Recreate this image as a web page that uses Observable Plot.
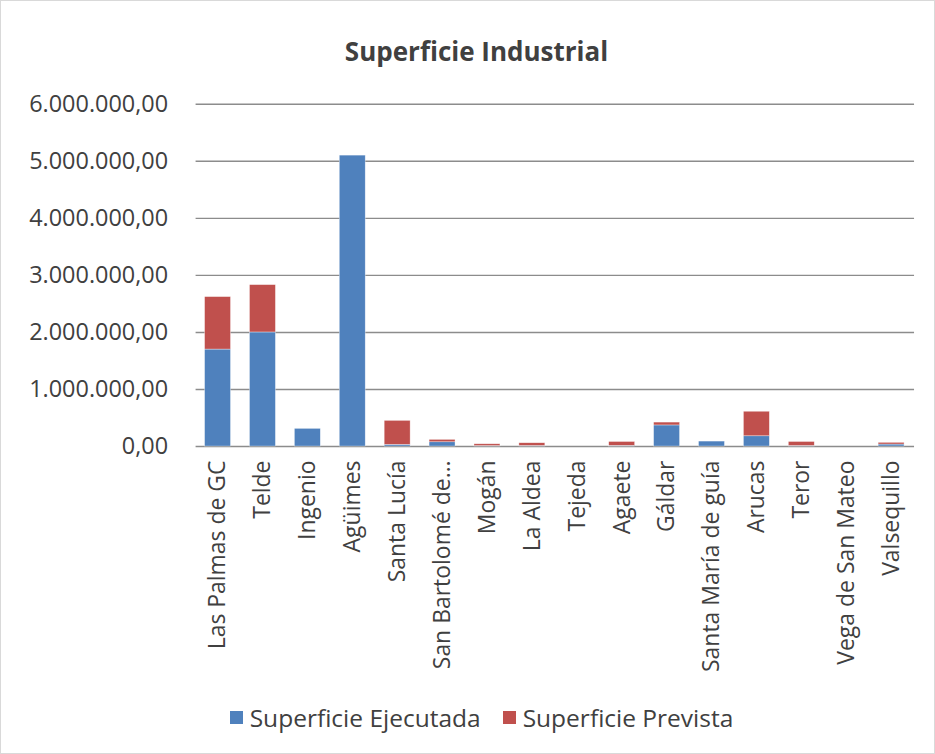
<!DOCTYPE html>
<html>
<head>
<meta charset="utf-8">
<script src="https://cdn.jsdelivr.net/npm/d3@7"></script>
<script src="https://cdn.jsdelivr.net/npm/@observablehq/plot@0.6"></script>
<style>
  body { margin: 0; background: #fff; }
  #frame { position: relative; width: 935px; height: 754px; box-sizing: border-box; border: 1px solid #d9d9d9; font-family: "Open Sans", sans-serif; overflow: hidden; }
  #title { position: absolute; left: 0; width: 100%; top: 32px; text-align: center; font-size: 26px; font-weight: bold; color: #404040; padding-left: 18px; box-sizing: border-box; }
  #chart { position: absolute; left: 0; top: 0; }
  #legend { position: absolute; top: 700px; left: 0; width: 100%; display: flex; justify-content: center; gap: 22px; font-size: 24.5px; color: #404040; padding-left: 28px; box-sizing: border-box; }
  .item { display: flex; align-items: center; gap: 7px; }
  .sw { width: 13px; height: 13px; display: inline-block; }
</style>
</head>
<body>
<div id="frame">
  <div id="title">Superficie Industrial</div>
  <div id="chart"></div>
  <div id="legend"></div>
</div>
<script>
const categories = ["Las Palmas de GC", "Telde", "Ingenio", "Agüimes", "Santa Lucía", "San Bartolomé de…", "Mogán", "La Aldea", "Tejeda", "Agaete", "Gáldar", "Santa María de guía", "Arucas", "Teror", "Vega de San Mateo", "Valsequillo"];
const ejecutada = [1700000, 2000000, 310000, 5100000, 30000, 75000, 8000, 10000, 0, 12000, 370000, 87000, 180000, 10000, 0, 35000];
const prevista  = [920000, 830000, 0, 0, 420000, 42000, 32000, 48000, 0, 68000, 50000, 0, 430000, 70000, 0, 30000];
const seriesNames = ["Superficie Ejecutada", "Superficie Prevista"];
const seriesColors = ["#4F81BD", "#C0504D"];
const yTicks = [0, 1000000, 2000000, 3000000, 4000000, 5000000, 6000000];

const rows = [];
categories.forEach((c, i) => rows.push({cat: c, serie: seriesNames[0], value: ejecutada[i]}));
categories.forEach((c, i) => rows.push({cat: c, serie: seriesNames[1], value: prevista[i]}));

const loc = d3.formatLocale({decimal: ",", thousands: ".", grouping: [3], currency: ["", ""]});
const fmt = loc.format(",.2f");

const chart = Plot.plot({
  width: 935,
  height: 700,
  marginTop: 103,
  marginBottom: 254,
  marginLeft: 195,
  marginRight: 20,
  style: {fontFamily: "'Open Sans', sans-serif", fontSize: "23px", color: "#404040", background: "transparent"},
  x: {domain: categories, paddingInner: 0.42, paddingOuter: 0.21, label: null},
  y: {domain: [0, 6000000], label: null},
  color: {domain: seriesNames, range: seriesColors},
  marks: [
    Plot.ruleY(yTicks, {stroke: "#8c8c8c", strokeWidth: 1.4}),
    Plot.barY(rows, Plot.stackY({x: "cat", y: "value", fill: "serie", stroke: "#fff", strokeWidth: 0.6, strokeOpacity: 0.6})),
    Plot.axisX({tickRotate: -90, tickSize: 0, tickPadding: 14, fontSize: 23, fill: "#404040"}),
    Plot.axisY({ticks: yTicks, tickFormat: fmt, tickSize: 0, tickPadding: 28, fontSize: 23.5, fill: "#404040"})
  ]
});
document.getElementById("chart").appendChild(chart);

const legend = document.getElementById("legend");
seriesNames.forEach((n, i) => {
  const it = document.createElement("div");
  it.className = "item";
  const sw = document.createElement("span");
  sw.className = "sw";
  sw.style.background = seriesColors[i];
  const t = document.createElement("span");
  t.textContent = n;
  it.appendChild(sw); it.appendChild(t);
  legend.appendChild(it);
});
</script>
</body>
</html>
